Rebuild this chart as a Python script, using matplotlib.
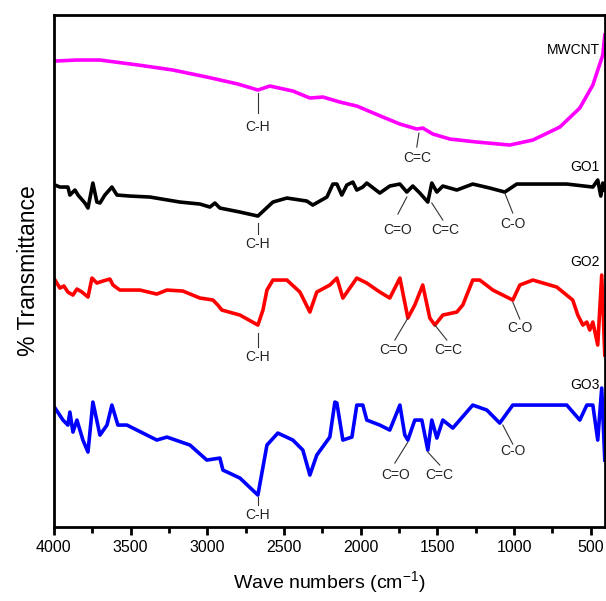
import matplotlib.pyplot as plt
from matplotlib.ticker import MultipleLocator

plt.rcParams['font.family'] = ['Liberation Sans', 'DejaVu Sans']

# wave numbers (cm-1) and offset transmittance (arbitrary units)
mwcnt_x = [3993, 3850, 3700, 3450, 3224, 3003, 2800, 2670, 2592, 2442, 2331, 2246, 2136,
           2025, 1855, 1744, 1634, 1595, 1529, 1418, 1242, 1027, 877, 701, 571, 486, 421, 408]
mwcnt_y = [540, 541, 541, 536, 531, 524, 517, 511, 515, 510, 503, 504, 499,
           495, 484, 477, 472, 473, 467, 462, 459, 456, 461, 474, 493, 516, 546, 566]

go1_x = [3993, 3961, 3909, 3896, 3863, 3843, 3798, 3778, 3746, 3720, 3700, 3668, 3622, 3589,
         3505, 3374, 3179, 3048, 2983, 2950, 2918, 2787, 2670, 2572, 2481, 2351, 2312, 2220,
         2181, 2155, 2123, 2090, 2051, 2025, 1986, 1960, 1875, 1810, 1744, 1699, 1660, 1614,
         1562, 1536, 1503, 1464, 1373, 1269, 1158, 1060, 982, 656, 486, 454, 434, 421, 408]
go1_y = [416, 414, 414, 406, 411, 406, 398, 393, 418, 399, 398, 406, 414, 406,
         405, 404, 399, 397, 394, 398, 393, 389, 385, 399, 403, 400, 396, 404,
         417, 417, 406, 416, 419, 411, 414, 418, 408, 415, 417, 409, 415, 408,
         399, 418, 409, 415, 411, 417, 413, 409, 417, 417, 414, 421, 405, 418, 411]

go2_x = [3993, 3961, 3935, 3909, 3876, 3850, 3817, 3778, 3752, 3720, 3681, 3635, 3615, 3570,
         3439, 3329, 3263, 3159, 3048, 3003, 2963, 2931, 2905, 2787, 2670, 2637, 2611, 2572,
         2481, 2396, 2331, 2286, 2201, 2155, 2116, 2025, 1960, 1875, 1810, 1744, 1692, 1647,
         1595, 1549, 1516, 1464, 1373, 1334, 1269, 1223, 1138, 1008, 962, 877, 721, 617,
         584, 551, 525, 506, 486, 454, 428, 408]
go2_y = [321, 313, 315, 309, 306, 312, 309, 304, 323, 318, 320, 322, 316, 311,
         311, 307, 311, 310, 303, 302, 301, 296, 291, 286, 276, 291, 311, 321,
         321, 309, 289, 309, 316, 323, 303, 323, 318, 309, 303, 323, 283, 296,
         316, 283, 276, 286, 289, 296, 321, 321, 311, 301, 316, 321, 314, 301,
         286, 276, 279, 271, 279, 256, 326, 246]

go3_x = [3993, 3941, 3909, 3896, 3876, 3850, 3811, 3778, 3746, 3700, 3654, 3622, 3583, 3524,
         3329, 3263, 3113, 3003, 2918, 2898, 2787, 2670, 2611, 2540, 2442, 2377, 2331, 2286,
         2201, 2168, 2155, 2116, 2057, 2025, 1986, 1960, 1875, 1810, 1744, 1712, 1692, 1647,
         1601, 1562, 1536, 1503, 1464, 1399, 1269, 1177, 1093, 1008, 877, 656, 571, 525, 486,
         454, 428, 408]
go3_y = [193, 181, 176, 189, 169, 181, 161, 149, 199, 166, 176, 196, 176, 176,
         161, 164, 156, 141, 143, 131, 123, 106, 156, 168, 161, 151, 126, 146,
         164, 199, 198, 161, 164, 196, 196, 181, 176, 171, 196, 166, 161, 181,
         181, 151, 181, 163, 181, 173, 196, 191, 178, 196, 196, 196, 181, 196, 196,
         161, 213, 141]

labels = ['MWCNT', 'GO1', 'GO2', 'GO3']
colors = ['#ff00ff', 'black', 'red', 'blue']
label_y = [551, 434, 339, 216]

# peak assignments: text, peak point, line end, text position
marks = [
    ('C-H', 2670, 508, 2670, 488, 2670, 474),
    ('C=C', 1620, 468, 1634, 454, 1634, 443),
    ('C-H', 2670, 378, 2670, 367, 2670, 357),
    ('C=O', 1699, 404, 1757, 387, 1757, 371),
    ('C=C', 1536, 398, 1464, 381, 1451, 371),
    ('C-O', 1060, 408, 1008, 388, 1008, 377),
    ('C-H', 2670, 268, 2670, 254, 2670, 244),
    ('C=O', 1692, 283, 1777, 261, 1783, 251),
    ('C=C', 1516, 276, 1438, 261, 1432, 251),
    ('C-O', 1008, 299, 962, 282, 962, 273),
    ('C-H', 2670, 104, 2670, 96, 2670, 86),
    ('C=O', 1692, 159, 1777, 138, 1770, 126),
    ('C=C', 1562, 149, 1484, 136, 1490, 126),
    ('C-O', 1073, 176, 1008, 157, 1008, 150),
]

fig = plt.figure(figsize=(6.06, 6.01), dpi=100)
ax = fig.add_axes([0.089, 0.123, 0.909, 0.852])

series = [(mwcnt_x, mwcnt_y), (go1_x, go1_y), (go2_x, go2_y), (go3_x, go3_y)]
for (x, y), c, name, ly in zip(series, colors, labels, label_y):
    ax.plot(x, y, color=c, lw=2.6, solid_joinstyle='round')
    ax.text(440, ly, name, ha='right', va='center', fontsize=10)

for t, x1, y1, x2, y2, tx, ty in marks:
    ax.plot([x1, x2], [y1, y2], color='#333333', lw=0.8)
    ax.text(tx, ty, t, ha='center', va='center', fontsize=10, color='#222222')

ax.set_xlim(4000, 408)
ax.set_ylim(74, 586)
ax.xaxis.set_major_locator(MultipleLocator(500))
ax.xaxis.set_minor_locator(MultipleLocator(250))
ax.tick_params(axis='x', which='major', direction='out', length=6, width=2, labelsize=11.5)
ax.tick_params(axis='x', which='minor', direction='out', length=4, width=2)
ax.set_yticks([])
for s in ax.spines.values():
    s.set_linewidth(2)

ax.set_xlabel('Wave numbers (cm$^{\\mathregular{-1}}$)', fontsize=14, labelpad=10)
ax.set_ylabel('% Transmittance', fontsize=16.5, labelpad=10)

fig.savefig('out.png', dpi=100)
